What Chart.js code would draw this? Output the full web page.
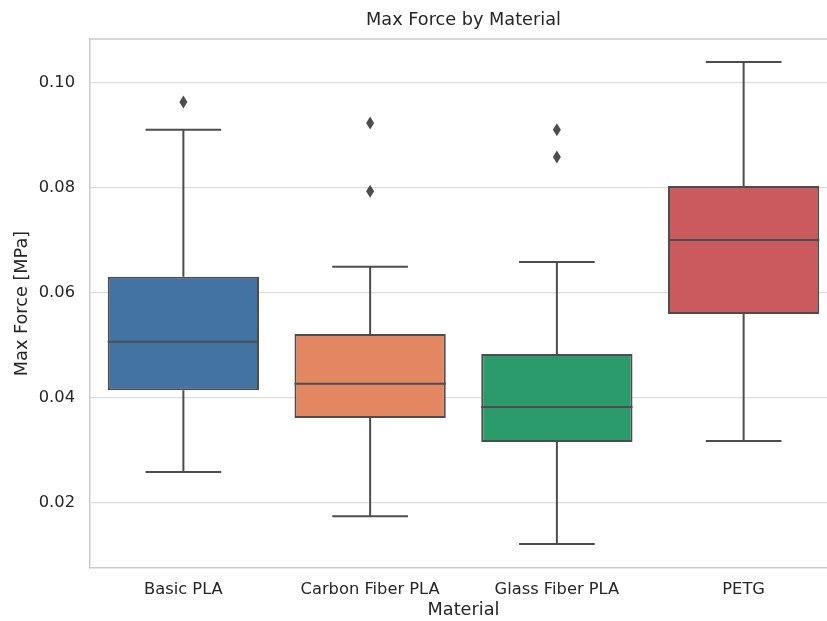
<!DOCTYPE html>
<html>
<head>
<meta charset="utf-8">
<script src="https://cdn.jsdelivr.net/npm/chart.js@4"></script>
<style>
  html, body { margin: 0; padding: 0; background: #fff; overflow: hidden; }
  #myChart { display: block; }
</style>
</head>
<body>
<canvas id="myChart" width="838" height="621"></canvas>
<script>
const materials = ['Basic PLA', 'Carbon Fiber PLA', 'Glass Fiber PLA', 'PETG'];
const whiskerLow = [0.0259, 0.0175, 0.0122, 0.0318];
const q1 = [0.0415, 0.0362, 0.0316, 0.0560];
const medians = [0.0507, 0.0427, 0.0383, 0.0701];
const q3 = [0.0631, 0.0522, 0.0484, 0.0804];
const whiskerHigh = [0.0911, 0.0650, 0.0659, 0.1040];
const outliers = [[0.0964], [0.0924, 0.0794], [0.0911, 0.0859], []];
const yTicks = [0.02, 0.04, 0.06, 0.08, 0.10];

const boxColors = ['#4373a3', '#e38763', '#2b9b6c', '#cb5a5f'];
const lineColor = '#4d4d4d';
const textColor = '#262626';
const chartTitle = 'Max Force by Material';

Chart.defaults.font.family = '"DejaVu Sans", sans-serif';
Chart.defaults.color = textColor;

// top spine + title centred on the plot area, then median/whiskers/outliers
const boxExtras = {
  id: 'boxExtras',
  beforeDatasetsDraw(chart) {
    const { ctx, chartArea } = chart;
    ctx.save();
    ctx.strokeStyle = '#cccccc';
    ctx.lineWidth = 1.5;
    ctx.beginPath();
    ctx.moveTo(chartArea.left, chartArea.top);
    ctx.lineTo(chartArea.right, chartArea.top);
    ctx.stroke();
    ctx.fillStyle = textColor;
    ctx.font = '17.7px "DejaVu Sans", sans-serif';
    ctx.textAlign = 'center';
    ctx.textBaseline = 'middle';
    ctx.fillText(chartTitle, (chartArea.left + chartArea.right) / 2, 20);
    ctx.restore();
  },
  afterDatasetsDraw(chart) {
    const { ctx, scales: { x, y } } = chart;
    const bars = chart.getDatasetMeta(0).data;
    ctx.save();
    ctx.strokeStyle = lineColor;
    ctx.fillStyle = lineColor;
    ctx.lineWidth = 2;
    materials.forEach((m, i) => {
      const cx = x.getPixelForValue(i);
      const half = bars[i].width / 2;
      const cap = half / 2;
      ctx.beginPath();
      ctx.moveTo(cx - half, y.getPixelForValue(medians[i]));
      ctx.lineTo(cx + half, y.getPixelForValue(medians[i]));
      ctx.moveTo(cx, y.getPixelForValue(q3[i]));
      ctx.lineTo(cx, y.getPixelForValue(whiskerHigh[i]));
      ctx.moveTo(cx, y.getPixelForValue(q1[i]));
      ctx.lineTo(cx, y.getPixelForValue(whiskerLow[i]));
      ctx.moveTo(cx - cap, y.getPixelForValue(whiskerHigh[i]));
      ctx.lineTo(cx + cap, y.getPixelForValue(whiskerHigh[i]));
      ctx.moveTo(cx - cap, y.getPixelForValue(whiskerLow[i]));
      ctx.lineTo(cx + cap, y.getPixelForValue(whiskerLow[i]));
      ctx.stroke();
      outliers[i].forEach(v => {
        const py = y.getPixelForValue(v);
        ctx.beginPath();
        ctx.moveTo(cx, py - 6.5);
        ctx.lineTo(cx + 4, py);
        ctx.lineTo(cx, py + 6.5);
        ctx.lineTo(cx - 4, py);
        ctx.closePath();
        ctx.fill();
      });
    });
    ctx.restore();
  }
};

const ctx = document.getElementById('myChart');

new Chart(ctx, {
  type: 'bar',
  data: {
    labels: materials,
    datasets: [{
      label: 'Max Force',
      data: materials.map((m, i) => [q1[i], q3[i]]),
      backgroundColor: boxColors,
      borderColor: lineColor,
      borderWidth: 2,
      borderSkipped: false,
      barPercentage: 0.81,
      categoryPercentage: 1
    }]
  },
  plugins: [boxExtras],
  options: {
    responsive: false,
    animation: false,
    layout: { padding: { left: 0, right: 1, top: 39, bottom: 0 } },
    plugins: {
      legend: { display: false },
      tooltip: { enabled: false },
      title: { display: false }
    },
    scales: {
      x: {
        grid: { display: false, drawTicks: false },
        border: { color: '#cccccc', width: 1.5 },
        ticks: { color: textColor, font: { size: 16.3 }, padding: 12 },
        title: {
          display: true,
          text: 'Material',
          color: textColor,
          font: { size: 17.7 },
          padding: { top: 0, bottom: 0 }
        },
        afterFit: scale => { scale.height = 53; }
      },
      y: {
        min: 0.00762,
        max: 0.10838,
        grid: { color: '#dddddd', lineWidth: 1.2, drawTicks: false },
        border: { color: '#cccccc', width: 1.5 },
        ticks: {
          color: textColor,
          font: { size: 16.3 },
          padding: 15,
          includeBounds: false,
          callback: v => v.toFixed(2)
        },
        afterBuildTicks: scale => { scale.ticks = yTicks.map(v => ({ value: v })); },
        title: {
          display: true,
          text: 'Max Force [MPa]',
          color: textColor,
          font: { size: 17.7 },
          padding: { top: 12, bottom: 0 }
        },
        afterFit: scale => { scale.width = 90; }
      }
    }
  }
});
</script>
</body>
</html>
